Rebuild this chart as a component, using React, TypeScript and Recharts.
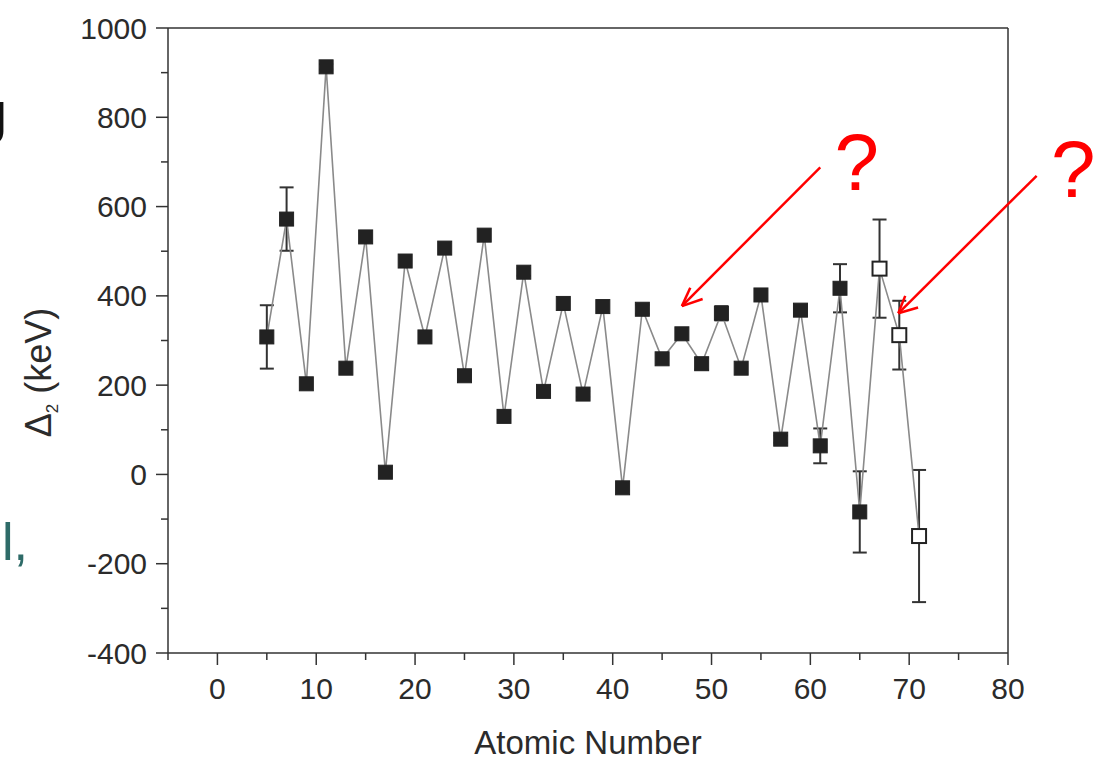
import {
  LineChart,
  Line,
  XAxis,
  YAxis,
  ErrorBar,
  ReferenceLine,
  ReferenceDot,
} from "recharts";

// odd-Z nuclei, pairing indicator Δ2 (keV) with uncertainties
const zNumbers = [
  5, 7, 9, 11, 13, 15, 17, 19, 21, 23, 25, 27, 29, 31, 33, 35, 37, 39, 41, 43,
  45, 47, 49, 51, 53, 55, 57, 59, 61, 63, 65, 67, 69, 71,
];
const delta2 = [
  308, 572, 203, 913, 238, 532, 5, 478, 308, 507, 221, 536, 130, 453, 186, 383,
  180, 376, -30, 370, 259, 315, 248, 361, 238, 402, 79, 368, 64, 417, -84, 461,
  312, -138,
];
const delta2Err = [
  71, 71, 0, 6, 0, 0, 0, 0, 0, 0, 8, 0, 0, 8, 5, 0, 6, 0, 0, 10, 0, 0, 13, 16,
  0, 0, 8, 6, 39, 54, 91, 110, 77, 148,
];
// points drawn as open squares
const uncertainZ = [67, 69, 71];

const xTicks = [-5, 0, 5, 10, 15, 20, 25, 30, 35, 40, 45, 50, 55, 60, 65, 70, 75, 80];
const yTicks = [-400, -300, -200, -100, 0, 100, 200, 300, 400, 500, 600, 700, 800, 900, 1000];

// red annotation arrows (data coordinates)
const arrowStarts = [
  { x: 61, y: 688 },
  { x: 82.9, y: 669 },
];
const arrowTips = [
  { x: 47.0, y: 377 },
  { x: 68.9, y: 361 },
];
const arrowArmsA = [
  { x: 47.85, y: 418 },
  { x: 69.6, y: 400 },
];
const arrowArmsB = [
  { x: 49.1, y: 393 },
  { x: 70.9, y: 374 },
];
const questionMarks = [
  { x: 64.7, y: 700 },
  { x: 86.6, y: 684 },
];

const data = zNumbers.map((z, i) => ({
  z,
  d: delta2[i],
  err: delta2Err[i],
  open: uncertainZ.includes(z),
}));

const AXIS = "#333";
const TEXT = "#2b2b2b";
const FONT = "'Liberation Sans', Arial, Helvetica, sans-serif";

function XTick({ x, y, payload }: any) {
  const major = payload.value % 10 === 0;
  return (
    <g>
      <line x1={x} y1={y} x2={x} y2={y + (major ? 12 : 7)} stroke={AXIS} strokeWidth={1.5} />
      {major && (
        <text x={x} y={y + 46} textAnchor="middle" fontSize={30} fill={TEXT} fontFamily={FONT}>
          {payload.value}
        </text>
      )}
    </g>
  );
}

function YTick({ x, y, payload }: any) {
  const major = payload.value % 200 === 0;
  return (
    <g>
      <line x1={x} y1={y} x2={x - (major ? 12 : 7)} y2={y} stroke={AXIS} strokeWidth={1.5} />
      {major && (
        <text x={x - 21} y={y + 10.5} textAnchor="end" fontSize={30} fill={TEXT} fontFamily={FONT}>
          {payload.value}
        </text>
      )}
    </g>
  );
}

function SquareDot({ cx, cy, payload }: any) {
  if (cx == null || cy == null) return null;
  return (
    <rect
      x={cx - 7}
      y={cy - 7}
      width={14}
      height={14}
      fill={payload.open ? "#fff" : "#222"}
      stroke="#222"
      strokeWidth={payload.open ? 2 : 1}
    />
  );
}

function XTitle({ viewBox }: any) {
  return (
    <text
      x={viewBox.x + viewBox.width / 2}
      y={viewBox.y + 101}
      textAnchor="middle"
      fontSize={33}
      fill={TEXT}
      fontFamily={FONT}
    >
      Atomic Number
    </text>
  );
}

function YTitle({ viewBox }: any) {
  const cx = viewBox.x + 51;
  const cy = viewBox.y + viewBox.height / 2 + 32;
  return (
    <text
      x={cx}
      y={cy}
      transform={`rotate(-90, ${cx}, ${cy})`}
      textAnchor="middle"
      fontSize={36}
      fill={TEXT}
      fontFamily={FONT}
    >
      Δ
      <tspan fontSize={17} dy={7}>
        2
      </tspan>
      <tspan dy={-7}> (keV)</tspan>
    </text>
  );
}

export default function App() {
  return (
    <div
      style={{
        position: "absolute",
        left: 0,
        top: 0,
        width: 1097,
        height: 759,
        background: "#fff",
        fontFamily: FONT,
      }}
    >
      <svg width={1097} height={759} style={{ position: "absolute", left: 0, top: 0 }}>
        <text x={-23} y={144} fontSize={62} fill="#111" fontFamily={FONT}>
          J
        </text>
        <text x={2} y={560} fontSize={52} fill="#2e6b68" fontFamily={FONT}>
          l,
        </text>
      </svg>
      <div style={{ position: "absolute", left: 0, top: 0 }}>
        <LineChart width={1097} height={759} data={data} margin={{ top: 28, right: 89, left: 0, bottom: 0 }}>
          <XAxis
            dataKey="z"
            type="number"
            domain={[-5, 80]}
            ticks={xTicks}
            interval={0}
            tickSize={0}
            tickMargin={0}
            tick={<XTick />}
            height={106}
            stroke={AXIS}
            strokeWidth={1.5}
            allowDataOverflow
            label={<XTitle />}
          />
          <YAxis
            type="number"
            domain={[-400, 1000]}
            ticks={yTicks}
            interval={0}
            tickSize={0}
            tickMargin={0}
            tick={<YTick />}
            width={168}
            stroke={AXIS}
            strokeWidth={1.5}
            allowDataOverflow
            label={<YTitle />}
          />
          <ReferenceLine y={1000} stroke={AXIS} strokeWidth={1.5} />
          <ReferenceLine x={80} stroke={AXIS} strokeWidth={1.5} />
          <Line
            type="linear"
            dataKey="d"
            stroke="#8a8a8a"
            strokeWidth={1.6}
            dot={(p: any) => <SquareDot key={p.index} {...p} />}
            activeDot={false}
            isAnimationActive={false}
          >
            <ErrorBar dataKey="err" direction="y" width={7} stroke="#333" strokeWidth={2} />
          </Line>
          {arrowStarts.map((s, i) => (
            <ReferenceLine
              key={`arrow-${i}`}
              segment={[s, arrowTips[i]]}
              stroke="#ff0000"
              strokeWidth={2.5}
              ifOverflow="visible"
            />
          ))}
          {arrowTips.map((t, i) => (
            <ReferenceLine
              key={`armA-${i}`}
              segment={[t, arrowArmsA[i]]}
              stroke="#ff0000"
              strokeWidth={2.5}
              ifOverflow="visible"
            />
          ))}
          {arrowTips.map((t, i) => (
            <ReferenceLine
              key={`armB-${i}`}
              segment={[t, arrowArmsB[i]]}
              stroke="#ff0000"
              strokeWidth={2.5}
              ifOverflow="visible"
            />
          ))}
          {questionMarks.map((q, i) => (
            <ReferenceDot
              key={`q-${i}`}
              x={q.x}
              y={q.y}
              r={1}
              fill="none"
              stroke="none"
              ifOverflow="visible"
              label={{ value: "?", position: "center", fill: "#ff0000", fontSize: 80, fontFamily: FONT }}
            />
          ))}
        </LineChart>
      </div>
    </div>
  );
}
